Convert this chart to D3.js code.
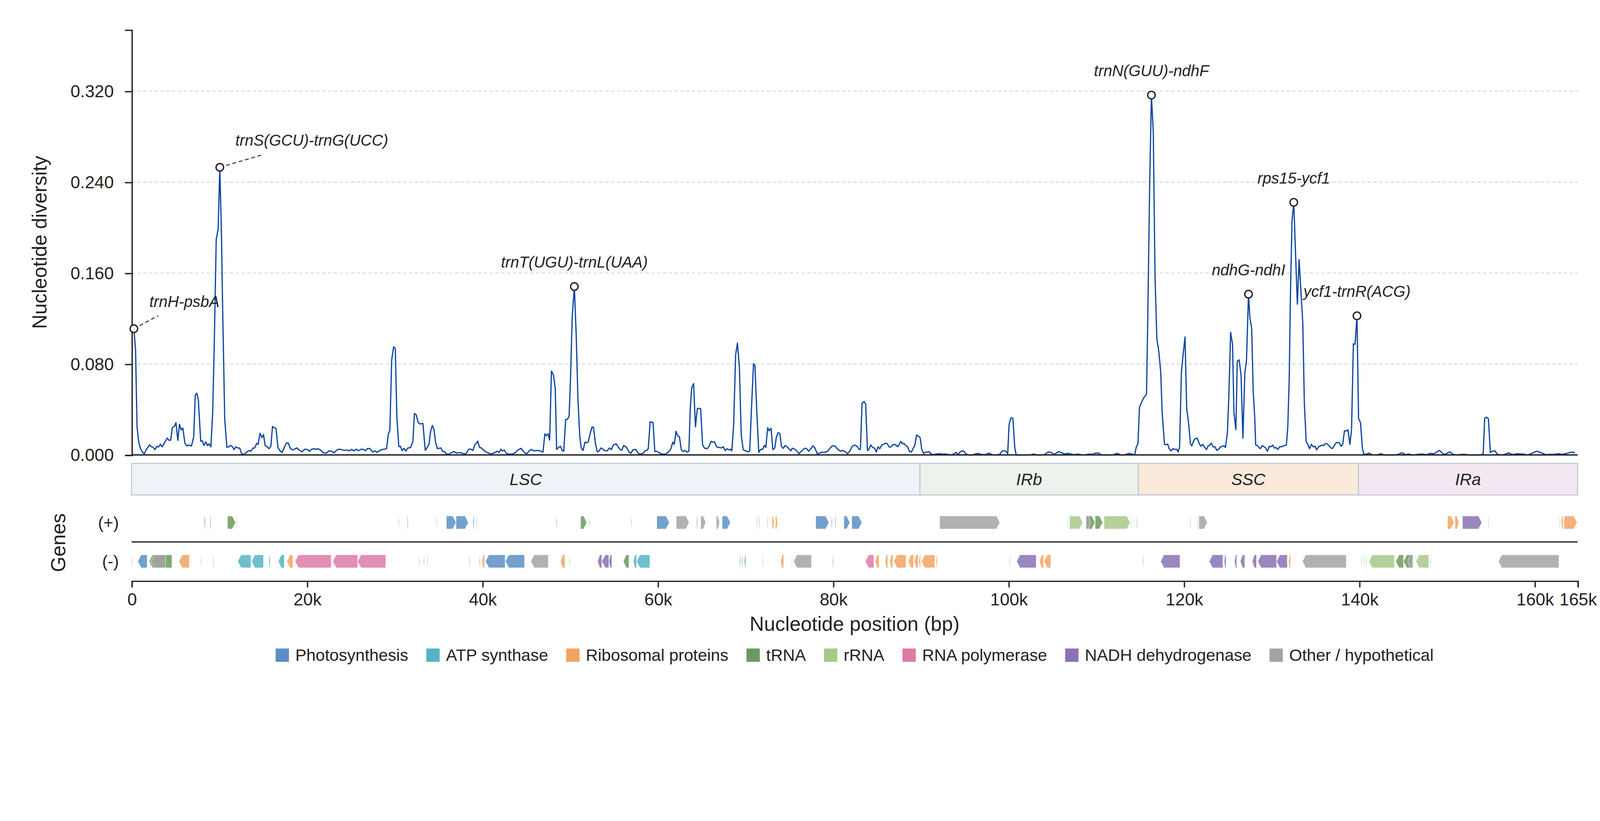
<!DOCTYPE html>
<html>
<head>
<meta charset="utf-8">
<script src="https://cdn.jsdelivr.net/npm/d3@7"></script>
<style>
  html, body { margin: 0; padding: 0; background: #fff; overflow: hidden; }
  svg { display: block; width: 100vw; height: 100vh; font-family: "Liberation Sans", Arial, sans-serif; }
</style>
</head>
<body>
<div id="chart"></div>
<script>
// ---- DATA ----
const genomeLength = 164900;

const regionNames  = ["LSC", "IRb", "SSC", "IRa"];
const regionStarts = [0, 89900, 114800, 139900];
const regionEnds   = [89900, 114800, 139900, 164900];

const yTicks = [0, 0.08, 0.16, 0.24, 0.32];
const xTicks = [0, 20000, 40000, 60000, 80000, 100000, 120000, 140000, 160000, 164900];
const xTickLabels = ["0", "20k", "40k", "60k", "80k", "100k", "120k", "140k", "160k", "165k"];

const categoryCodes = ["ps", "atp", "rib", "trna", "rrna", "rpo", "ndh", "oth"];
const categoryNames = ["Photosynthesis", "ATP synthase", "Ribosomal proteins", "tRNA", "rRNA",
                       "RNA polymerase", "NADH dehydrogenase", "Other / hypothetical"];
const categoryColors = ["#5a8fc4", "#55b4c4", "#f1a462", "#6a9a5e", "#a8c98a",
                        "#de7aa6", "#8a72b4", "#a3a3a3"];

// sliding window nucleotide diversity: [position (kb), Pi]
const diversity = [
  [0.26,0.1110],[0.45,0.0924],[0.62,0.0246],[0.83,0.0104],[1.05,0.0049],[1.29,0.0022],[1.45,0.0008],[1.64,0.0044],
  [1.85,0.0066],[2.04,0.0090],[2.23,0.0073],[2.47,0.0066],[2.66,0.0047],[2.88,0.0077],[3.06,0.0069],[3.28,0.0095],
  [3.47,0.0071],[3.71,0.0102],[4.06,0.0148],[4.28,0.0128],[4.46,0.0131],[4.65,0.0240],[4.87,0.0251],[5.06,0.0284],
  [5.27,0.0128],[5.46,0.0270],[5.65,0.0219],[5.84,0.0237],[6.08,0.0102],[6.30,0.0079],[6.51,0.0087],[6.83,0.0079],
  [7.08,0.0161],[7.26,0.0525],[7.43,0.0544],[7.61,0.0486],[7.88,0.0120],[8.05,0.0126],[8.26,0.0084],[8.48,0.0115],
  [8.66,0.0082],[8.83,0.0098],[9.04,0.0071],[9.25,0.0380],[9.42,0.0949],[9.65,0.1895],[9.87,0.1989],[10.06,0.2530],
  [10.25,0.1922],[10.36,0.1380],[10.62,0.0312],[10.87,0.0066],[11.09,0.0073],[11.30,0.0084],[11.52,0.0071],[11.68,0.0047],
  [11.89,0.0071],[12.11,0.0062],[12.33,0.0060],[12.54,0.0011],[12.81,0.0005],[13.08,0.0022],[13.35,0.0038],[13.62,0.0033],
  [13.83,0.0060],[14.05,0.0062],[14.26,0.0102],[14.43,0.0093],[14.64,0.0191],[14.86,0.0153],[15.04,0.0180],[15.23,0.0082],
  [15.45,0.0073],[15.66,0.0055],[15.88,0.0077],[16.07,0.0251],[16.26,0.0240],[16.47,0.0232],[16.69,0.0066],[16.90,0.0038],
  [17.17,0.0022],[17.44,0.0071],[17.66,0.0106],[17.87,0.0104],[18.09,0.0060],[18.33,0.0044],[18.57,0.0051],[18.84,0.0062],
  [19.11,0.0044],[19.43,0.0027],[19.76,0.0051],[20.02,0.0049],[20.29,0.0033],[20.51,0.0049],[20.83,0.0055],[21.05,0.0049],
  [21.26,0.0055],[21.59,0.0040],[21.86,0.0019],[22.23,0.0016],[22.50,0.0036],[22.77,0.0033],[23.09,0.0019],[23.36,0.0040],
  [23.63,0.0051],[23.95,0.0047],[24.28,0.0040],[24.55,0.0044],[24.82,0.0036],[25.09,0.0049],[25.35,0.0036],[25.62,0.0051],
  [25.89,0.0038],[26.16,0.0051],[26.43,0.0049],[26.70,0.0038],[26.92,0.0058],[27.19,0.0055],[27.51,0.0025],[27.78,0.0036],
  [27.99,0.0022],[28.26,0.0038],[28.59,0.0049],[28.85,0.0051],[29.07,0.0055],[29.29,0.0186],[29.45,0.0219],[29.66,0.0836],
  [29.88,0.0951],[30.07,0.0937],[30.25,0.0333],[30.47,0.0073],[30.66,0.0077],[30.85,0.0038],[31.06,0.0058],[31.28,0.0033],
  [31.49,0.0060],[31.82,0.0066],[32.08,0.0120],[32.25,0.0364],[32.46,0.0353],[32.68,0.0284],[32.89,0.0273],[33.22,0.0277],
  [33.49,0.0040],[33.70,0.0066],[33.92,0.0095],[34.08,0.0202],[34.29,0.0259],[34.48,0.0226],[34.67,0.0109],[34.88,0.0055],
  [35.26,0.0062],[35.48,0.0030],[35.69,0.0030],[35.91,0.0008],[36.23,0.0008],[36.50,0.0022],[36.77,0.0030],[37.04,0.0016],
  [37.36,0.0022],[37.68,0.0016],[38.11,0.0008],[38.44,0.0051],[38.71,0.0051],[38.92,0.0040],[39.14,0.0091],[39.30,0.0102],
  [39.46,0.0122],[39.68,0.0066],[39.89,0.0062],[40.27,0.0033],[40.54,0.0022],[41.02,0.0008],[41.37,0.0019],[41.69,0.0033],
  [41.90,0.0022],[42.12,0.0051],[42.28,0.0033],[42.50,0.0044],[42.71,0.0016],[42.98,0.0008],[43.41,0.0008],[43.73,0.0019],
  [44.11,0.0047],[44.43,0.0058],[44.70,0.0030],[45.03,0.0008],[45.30,0.0033],[45.57,0.0049],[45.89,0.0036],[46.21,0.0040],
  [46.59,0.0036],[46.91,0.0025],[47.13,0.0186],[47.29,0.0169],[47.50,0.0186],[47.67,0.0131],[47.88,0.0738],[48.10,0.0705],
  [48.31,0.0590],[48.47,0.0049],[48.69,0.0066],[48.90,0.0077],[49.12,0.0038],[49.28,0.0033],[49.50,0.0312],[49.69,0.0312],
  [49.89,0.0341],[50.05,0.0665],[50.25,0.1220],[50.49,0.1481],[50.70,0.1057],[50.90,0.0489],[51.10,0.0170],[51.27,0.0062],
  [51.49,0.0040],[51.70,0.0113],[51.86,0.0106],[52.08,0.0115],[52.30,0.0191],[52.51,0.0246],[52.67,0.0244],[52.89,0.0104],
  [53.10,0.0027],[53.32,0.0036],[53.53,0.0062],[53.75,0.0051],[53.96,0.0038],[54.23,0.0036],[54.50,0.0062],[54.72,0.0047],
  [54.93,0.0087],[55.26,0.0098],[55.53,0.0066],[55.74,0.0047],[55.90,0.0040],[56.12,0.0084],[56.44,0.0066],[56.71,0.0027],
  [56.93,0.0014],[57.19,0.0047],[57.52,0.0047],[57.79,0.0014],[58.06,0.0008],[58.33,0.0014],[58.54,0.0036],[58.76,0.0040],
  [58.92,0.0055],[59.13,0.0290],[59.46,0.0287],[59.67,0.0030],[59.89,0.0033],[60.16,0.0019],[60.48,0.0008],[60.91,0.0008],
  [61.23,0.0027],[61.50,0.0055],[61.72,0.0113],[61.88,0.0093],[62.09,0.0208],[62.26,0.0169],[62.47,0.0161],[62.69,0.0044],
  [62.90,0.0030],[63.12,0.0040],[63.33,0.0025],[63.55,0.0033],[63.71,0.0410],[63.87,0.0590],[64.09,0.0628],[64.30,0.0248],
  [64.52,0.0410],[64.89,0.0408],[65.11,0.0093],[65.32,0.0060],[65.65,0.0055],[65.86,0.0077],[66.08,0.0120],[66.24,0.0113],
  [66.46,0.0117],[66.72,0.0071],[66.99,0.0066],[67.26,0.0062],[67.48,0.0073],[67.69,0.0038],[67.91,0.0055],[68.12,0.0044],
  [68.29,0.0051],[68.45,0.0036],[68.66,0.0268],[68.88,0.0880],[69.09,0.0984],[69.31,0.0771],[69.52,0.0180],[69.74,0.0047],
  [69.96,0.0038],[70.17,0.0033],[70.33,0.0027],[70.49,0.0036],[70.71,0.0443],[70.92,0.0803],[71.08,0.0787],[71.30,0.0377],
  [71.52,0.0022],[71.73,0.0049],[71.95,0.0049],[72.16,0.0084],[72.32,0.0066],[72.54,0.0240],[72.70,0.0213],[72.92,0.0235],
  [73.13,0.0047],[73.35,0.0062],[73.51,0.0150],[73.72,0.0197],[73.94,0.0186],[74.10,0.0077],[74.32,0.0058],[74.53,0.0084],
  [74.75,0.0071],[74.96,0.0055],[75.18,0.0036],[75.34,0.0060],[75.61,0.0051],[75.82,0.0040],[76.09,0.0011],[76.42,0.0036],
  [76.74,0.0058],[76.95,0.0058],[77.22,0.0033],[77.49,0.0058],[77.71,0.0080],[77.92,0.0062],[78.19,0.0011],[78.41,0.0014],
  [78.73,0.0025],[79.00,0.0022],[79.38,0.0033],[79.65,0.0060],[79.92,0.0082],[80.24,0.0077],[80.51,0.0051],[80.83,0.0033],
  [81.10,0.0040],[81.37,0.0030],[81.64,0.0011],[81.91,0.0033],[82.18,0.0077],[82.50,0.0087],[82.77,0.0073],[82.95,0.0049],
  [83.11,0.0049],[83.30,0.0456],[83.52,0.0470],[83.71,0.0448],[83.92,0.0038],[84.08,0.0051],[84.30,0.0087],[84.51,0.0066],
  [84.73,0.0060],[84.92,0.0027],[85.11,0.0071],[85.32,0.0055],[85.54,0.0087],[85.75,0.0093],[85.99,0.0104],[86.18,0.0098],
  [86.40,0.0069],[86.56,0.0069],[86.77,0.0087],[86.99,0.0093],[87.15,0.0087],[87.37,0.0073],[87.53,0.0091],[87.72,0.0120],
  [87.90,0.0098],[88.07,0.0102],[88.28,0.0084],[88.50,0.0071],[88.71,0.0030],[88.93,0.0025],[89.14,0.0060],[89.30,0.0080],
  [89.52,0.0175],[89.74,0.0164],[89.92,0.0153],[90.11,0.0049],[90.33,0.0011],[90.54,0.0025],[90.76,0.0025],[90.92,0.0030],
  [91.13,0.0011],[91.40,0.0003],[91.78,0.0008],[92.10,0.0011],[92.43,0.0008],[92.86,0.0008],[93.23,0.0003],[93.61,0.0003],
  [93.83,0.0014],[94.04,0.0022],[94.26,0.0005],[94.53,0.0030],[94.85,0.0036],[95.12,0.0011],[95.44,0.0000],[95.87,0.0000],
  [96.20,0.0008],[96.52,0.0014],[96.90,0.0005],[97.33,0.0003],[97.76,0.0016],[98.13,0.0003],[98.56,0.0000],[98.99,0.0005],
  [99.32,0.0038],[99.70,0.0033],[99.91,0.0011],[100.07,0.0273],[100.29,0.0328],[100.50,0.0322],[100.72,0.0060],[100.88,0.0000],
  [101.36,0.0000],[102.06,0.0000],[102.60,0.0003],[102.87,0.0008],[103.25,0.0000],[103.73,0.0000],[104.16,0.0005],[104.54,0.0027],
  [104.86,0.0022],[105.19,0.0005],[105.46,0.0016],[105.73,0.0030],[106.05,0.0019],[106.42,0.0008],[106.75,0.0014],[107.12,0.0008],
  [107.50,0.0003],[107.88,0.0008],[108.26,0.0003],[108.74,0.0000],[109.12,0.0008],[109.55,0.0005],[109.92,0.0016],[110.30,0.0016],
  [110.57,0.0000],[111.43,0.0000],[111.97,0.0003],[112.40,0.0014],[112.83,0.0000],[113.32,0.0003],[113.75,0.0014],[114.18,0.0005],
  [114.39,0.0000],[114.56,0.0066],[114.77,0.0102],[114.93,0.0415],[115.09,0.0448],[115.31,0.0486],[115.52,0.0514],[115.74,0.0532],
  [115.89,0.1246],[116.10,0.2381],[116.30,0.3165],[116.51,0.2841],[116.71,0.1570],[116.92,0.1016],[117.14,0.0913],[117.36,0.0727],
  [117.52,0.0377],[117.79,0.0093],[118.00,0.0091],[118.16,0.0095],[118.32,0.0055],[118.54,0.0036],[118.76,0.0055],[118.97,0.0049],
  [119.19,0.0049],[119.35,0.0027],[119.51,0.0071],[119.72,0.0732],[119.91,0.0880],[120.13,0.1038],[120.32,0.0410],[120.53,0.0284],
  [120.75,0.0098],[120.91,0.0080],[121.12,0.0126],[121.34,0.0145],[121.53,0.0148],[121.72,0.0104],[121.93,0.0077],[122.15,0.0093],
  [122.36,0.0069],[122.58,0.0047],[122.74,0.0077],[122.90,0.0082],[123.12,0.0104],[123.33,0.0071],[123.55,0.0071],[123.76,0.0040],
  [123.98,0.0051],[124.15,0.0069],[124.37,0.0077],[124.58,0.0080],[124.74,0.0066],[124.96,0.0191],[125.12,0.0497],[125.33,0.1079],
  [125.55,0.0973],[125.71,0.0372],[125.93,0.0224],[126.09,0.0825],[126.30,0.0836],[126.52,0.0705],[126.73,0.0148],[126.95,0.0721],
  [127.14,0.0831],[127.37,0.1414],[127.53,0.1205],[127.73,0.1116],[127.91,0.0550],[128.08,0.0333],[128.19,0.0087],[128.40,0.0082],
  [128.56,0.0066],[128.73,0.0055],[128.94,0.0084],[129.16,0.0071],[129.32,0.0062],[129.53,0.0033],[129.75,0.0077],[129.91,0.0071],
  [130.13,0.0087],[130.34,0.0060],[130.50,0.0066],[130.72,0.0049],[130.93,0.0073],[131.20,0.0073],[131.42,0.0082],[131.69,0.0087],
  [131.85,0.0246],[132.01,0.0661],[132.15,0.1400],[132.33,0.2057],[132.53,0.2222],[132.69,0.1868],[132.94,0.1327],[133.14,0.1719],
  [133.35,0.1435],[133.56,0.1165],[133.74,0.0450],[133.95,0.0115],[134.11,0.0098],[134.33,0.0055],[134.54,0.0093],[134.76,0.0071],
  [134.97,0.0077],[135.13,0.0044],[135.35,0.0071],[135.56,0.0080],[135.78,0.0087],[135.94,0.0082],[136.16,0.0102],[136.37,0.0095],
  [136.59,0.0077],[136.80,0.0060],[136.96,0.0058],[137.18,0.0087],[137.39,0.0109],[137.72,0.0109],[137.93,0.0077],[138.12,0.0095],
  [138.31,0.0213],[138.53,0.0211],[138.71,0.0222],[138.93,0.0093],[139.12,0.0224],[139.33,0.0978],[139.52,0.0973],[139.74,0.1224],
  [139.92,0.0322],[140.14,0.0284],[140.36,0.0060],[140.52,0.0005],[140.84,0.0008],[141.11,0.0016],[141.43,0.0003],[142.02,0.0000],
  [142.46,0.0011],[142.83,0.0000],[143.91,0.0000],[144.50,0.0005],[144.72,0.0016],[144.99,0.0016],[145.26,0.0003],[145.63,0.0008],
  [146.06,0.0000],[146.66,0.0005],[147.14,0.0008],[147.68,0.0003],[148.11,0.0014],[148.54,0.0011],[148.86,0.0027],[149.13,0.0040],
  [149.40,0.0022],[149.67,0.0003],[150.05,0.0016],[150.32,0.0027],[150.64,0.0008],[151.02,0.0000],[151.66,0.0005],[152.09,0.0005],
  [152.52,0.0000],[153.92,0.0000],[154.14,0.0016],[154.30,0.0322],[154.52,0.0333],[154.73,0.0317],[154.95,0.0022],[155.16,0.0033],
  [155.48,0.0036],[155.75,0.0005],[156.24,0.0000],[156.72,0.0008],[157.05,0.0019],[157.37,0.0005],[157.69,0.0005],[158.02,0.0011],
  [158.34,0.0008],[158.72,0.0008],[159.09,0.0000],[159.52,0.0008],[159.90,0.0022],[160.22,0.0033],[160.54,0.0025],[160.92,0.0014],
  [161.25,0.0003],[161.68,0.0005],[162.21,0.0005],[162.75,0.0011],[163.08,0.0005],[163.56,0.0011],[163.99,0.0022],[164.37,0.0025],
  [164.59,0.0016]
];

// highly variable regions
const peakNames = ["trnH-psbA", "trnS(GCU)-trnG(UCC)", "trnT(UGU)-trnL(UAA)", "trnN(GUU)-ndhF",
                   "ndhG-ndhI", "rps15-ycf1", "ycf1-trnR(ACG)"];
const peakKb = [0.26, 10.06, 50.49, 116.30, 127.37, 132.53, 139.74];

// genes: [start kb, end kb, category code]
const genesPlus = [
  [8.30,8.42,"ps"],[8.95,9.05,"ps"],[10.93,11.85,"trna"],[11.95,12.02,"trna"],[30.45,30.52,"trna"],[31.45,31.55,"ps"],
  [34.76,34.84,"trna"],[35.90,37.00,"ps"],[37.00,38.40,"ps"],[38.95,39.08,"ps"],[39.35,39.43,"trna"],[48.45,48.53,"trna"],
  [51.20,51.90,"trna"],[52.15,52.22,"trna"],[56.95,57.03,"trna"],[59.89,61.32,"ps"],[62.11,63.58,"oth"],[64.45,64.55,"ps"],
  [64.90,65.47,"oth"],[66.68,67.05,"oth"],[67.35,68.29,"ps"],[71.28,71.36,"ps"],[71.54,71.62,"ps"],[72.48,72.56,"ps"],
  [73.04,73.27,"rib"],[73.42,73.68,"rib"],[78.02,79.52,"ps"],[79.80,79.90,"ps"],[80.22,80.32,"ps"],[81.22,81.90,"ps"],
  [82.13,83.29,"ps"],[92.15,99.01,"oth"],[106.75,106.82,"trna"],[106.96,108.47,"rrna"],[108.81,109.87,"trna"],
  [108.85,109.35,"oth"],[109.89,110.74,"trna"],[110.89,113.88,"rrna"],[114.00,114.08,"rrna"],[114.28,114.36,"rrna"],
  [114.62,114.68,"trna"],[120.70,120.80,"rib"],[121.57,121.63,"trna"],[121.71,122.67,"oth"],[150.07,150.81,"rib"],
  [150.92,151.36,"rib"],[151.77,153.98,"ndh"],[154.72,154.79,"trna"],[162.85,162.92,"trna"],[163.07,163.29,"rib"],
  [163.36,164.84,"rib"]
];
const genesMinus = [
  [0.00,0.08,"trna"],[0.71,1.77,"ps"],[2.00,4.60,"trna"],[2.20,3.88,"oth"],[5.39,6.59,"rib"],[7.88,7.95,"trna"],
  [9.28,9.35,"trna"],[12.10,13.60,"atp"],[13.68,15.04,"atp"],[15.65,15.80,"atp"],[16.73,17.41,"atp"],[17.71,18.39,"rib"],
  [18.65,22.76,"rpo"],[22.95,25.78,"rpo"],[25.78,28.98,"rpo"],[32.78,32.86,"ps"],[33.31,33.38,"trna"],[33.69,33.77,"trna"],
  [38.51,38.58,"trna"],[39.64,39.72,"trna"],[39.95,40.25,"rib"],[40.36,42.59,"ps"],[42.63,44.81,"ps"],[45.53,47.52,"oth"],
  [48.92,49.41,"rib"],[49.93,50.01,"trna"],[53.14,53.63,"ndh"],[53.63,54.42,"ndh"],[54.42,54.76,"ndh"],[56.08,56.72,"trna"],
  [57.21,57.59,"atp"],[57.59,59.10,"atp"],[69.33,69.43,"ps"],[69.62,69.72,"ps"],[69.88,70.03,"ps"],[71.95,72.02,"trna"],
  [74.02,74.36,"rib"],[75.26,75.34,"rib"],[75.49,77.53,"oth"],[79.94,80.02,"ps"],[83.67,84.65,"rpo"],[84.80,85.25,"rib"],
  [85.93,86.23,"rib"],[86.46,86.80,"rib"],[86.91,88.31,"rib"],[88.57,89.17,"rib"],[89.25,89.70,"rib"],[89.78,89.97,"rib"],
  [90.08,91.59,"rib"],[91.72,91.86,"rib"],[100.10,100.17,"trna"],[100.93,103.16,"ndh"],[103.53,103.99,"rib"],
  [104.06,104.82,"rib"],[115.32,115.38,"trna"],[117.35,119.56,"ndh"],[122.89,124.44,"ndh"],[124.59,124.81,"ps"],
  [125.77,126.03,"ndh"],[126.43,126.95,"ndh"],[127.80,128.28,"ndh"],[128.43,130.57,"ndh"],[130.57,131.79,"ndh"],
  [131.94,132.16,"rib"],[133.52,138.51,"oth"],[140.22,140.28,"trna"],[140.51,140.57,"trna"],[140.73,140.79,"trna"],
  [141.09,144.01,"rrna"],[144.16,145.05,"trna"],[145.05,146.15,"trna"],[145.53,146.08,"oth"],[146.45,147.93,"rrna"],
  [148.12,148.19,"trna"],[155.87,162.77,"oth"]
];

// ---- LAYOUT ----
const VW = 4322 / 3, VH = 2102 / 3;
const left = 118.5, right = 1420.5;
const plotTop = 26.8, plotBottom = 409.7;
const regionY = 417.3, regionH = 28.4;
const plusY = 470.5, minusY = 505.5, geneH = 11.7, sepY = 488;
const axisY = 523;
const ink = "#222";

const svg = d3.select("#chart").append("svg")
  .attr("viewBox", `0 0 ${VW} ${VH}`)
  .attr("preserveAspectRatio", "xMidYMin meet");

const x = d3.scaleLinear().domain([0, genomeLength]).range([left, right]);
const y = d3.scaleLinear().domain([0, 0.374]).range([plotBottom, plotTop]);
const colorOf = d3.scaleOrdinal().domain(categoryCodes).range(categoryColors);

// grid
svg.append("g").selectAll("line")
  .data(yTicks.filter(d => d > 0))
  .join("line")
  .attr("x1", left).attr("x2", right)
  .attr("y1", d => y(d)).attr("y2", d => y(d))
  .attr("stroke", "#d6dde3").attr("stroke-width", 1)
  .attr("stroke-dasharray", "3,2.2");

// diversity line
const line = d3.line().x(d => x(d[0] * 1000)).y(d => y(d[1]));
svg.append("path")
  .datum(diversity)
  .attr("fill", "none")
  .attr("stroke", "#0d47a1")
  .attr("stroke-width", 1.1)
  .attr("stroke-linejoin", "round")
  .attr("d", line);

// y axis
const yAxis = svg.append("g")
  .attr("transform", `translate(${left},0)`)
  .call(d3.axisLeft(y).tickValues(yTicks).tickFormat(d3.format(".3f")).tickSize(6).tickPadding(10));
yAxis.select(".domain").attr("stroke", ink).attr("stroke-width", 1.2);
yAxis.selectAll(".tick line").attr("stroke", ink).attr("stroke-width", 1.2);
yAxis.selectAll(".tick text").attr("font-size", 15.6).attr("font-family", "Liberation Sans, Arial, sans-serif").attr("fill", ink);

// baseline of the diversity panel
svg.append("line")
  .attr("x1", left).attr("x2", right)
  .attr("y1", plotBottom).attr("y2", plotBottom)
  .attr("stroke", ink).attr("stroke-width", 1.2);

svg.append("text")
  .attr("transform", `translate(35.7,${(plotTop + plotBottom) / 2}) rotate(-90)`)
  .attr("text-anchor", "middle").attr("dy", "0.35em")
  .attr("font-size", 18).attr("fill", ink)
  .text("Nucleotide diversity");

// annotations
const peaks = peakNames.map((name, i) => {
  const pt = diversity.reduce((a, b) => Math.abs(b[0] - peakKb[i]) < Math.abs(a[0] - peakKb[i]) ? b : a);
  return { name, px: x(pt[0] * 1000), py: y(pt[1]), side: i < 2 };
});
const annG = svg.append("g");
peaks.forEach(p => {
  const t = annG.append("text")
    .attr("font-size", 14).attr("font-style", "italic").attr("fill", ink)
    .text(p.name);
  if (p.side) {
    t.attr("x", p.px + 14).attr("y", p.py - 19.5).attr("text-anchor", "start");
    const w = t.node().getComputedTextLength();
    const cx = 14 + w / 2, cy = -24.5;
    annG.append("line")
      .attr("x1", p.px).attr("y1", p.py)
      .attr("x2", p.px + cx * 0.48).attr("y2", p.py + cy * 0.48)
      .attr("stroke", "#444").attr("stroke-width", 1)
      .attr("stroke-dasharray", "3.5,2.4");
  } else {
    t.attr("x", p.px).attr("y", p.py - 17).attr("text-anchor", "middle");
  }
});
annG.selectAll("circle")
  .data(peaks)
  .join("circle")
  .attr("cx", d => d.px).attr("cy", d => d.py).attr("r", 3.4)
  .attr("fill", "#fff").attr("stroke", ink).attr("stroke-width", 1.2);

// genome regions
const regions = regionNames.map((n, i) => ({ n, s: regionStarts[i], e: regionEnds[i] }));
const regionFills = ["#eff3f7", "#edf3ec", "#f9eadb", "#f3e8f2"];
const rg = svg.append("g");
rg.selectAll("rect")
  .data(regions)
  .join("rect")
  .attr("x", d => x(d.s)).attr("width", d => x(d.e) - x(d.s))
  .attr("y", regionY).attr("height", regionH)
  .attr("fill", (d, i) => regionFills[i])
  .attr("stroke", "#bcc5ce").attr("stroke-width", 0.9);
rg.selectAll("text")
  .data(regions)
  .join("text")
  .attr("x", d => (x(d.s) + x(d.e)) / 2).attr("y", regionY + regionH / 2)
  .attr("dy", "0.36em").attr("text-anchor", "middle")
  .attr("font-size", 15).attr("font-style", "italic").attr("fill", ink)
  .text(d => d.n);

// genes
function genePath(g, cy, strand) {
  let x0 = x(g[0] * 1000), x1 = x(g[1] * 1000);
  if (x1 - x0 < 0.6) x1 = x0 + 0.6;
  const w = x1 - x0, head = Math.min(3, w * 0.5);
  const t = cy - geneH / 2, b = cy + geneH / 2;
  if (strand > 0) return `M${x0},${t}H${x1 - head}L${x1},${cy}L${x1 - head},${b}H${x0}Z`;
  return `M${x1},${t}H${x0 + head}L${x0},${cy}L${x0 + head},${b}H${x1}Z`;
}
const gg = svg.append("g");
gg.selectAll("path.plus")
  .data(genesPlus)
  .join("path").attr("class", "plus")
  .attr("d", d => genePath(d, plusY, 1))
  .attr("fill", d => colorOf(d[2])).attr("fill-opacity", 0.85)
  .attr("stroke", "#fff").attr("stroke-width", 0.3);
gg.selectAll("path.minus")
  .data(genesMinus)
  .join("path").attr("class", "minus")
  .attr("d", d => genePath(d, minusY, -1))
  .attr("fill", d => colorOf(d[2])).attr("fill-opacity", 0.85)
  .attr("stroke", "#fff").attr("stroke-width", 0.3);

svg.append("line")
  .attr("x1", left).attr("x2", right)
  .attr("y1", sepY).attr("y2", sepY)
  .attr("stroke", "#333").attr("stroke-width", 1.2);

svg.selectAll("text.strand")
  .data([["(+)", plusY], ["(-)", minusY]])
  .join("text").attr("class", "strand")
  .attr("x", 107).attr("y", d => d[1]).attr("dy", "0.35em")
  .attr("text-anchor", "end").attr("font-size", 15).attr("fill", ink)
  .text(d => d[0]);

svg.append("text")
  .attr("transform", `translate(52.3,${sepY + 0.7}) rotate(-90)`)
  .attr("text-anchor", "middle").attr("dy", "0.35em")
  .attr("font-size", 18).attr("fill", ink)
  .text("Genes");

// x axis
const xAxis = svg.append("g")
  .attr("transform", `translate(0,${axisY})`)
  .call(d3.axisBottom(x).tickValues(xTicks).tickFormat((d, i) => xTickLabels[i]).tickSize(6).tickPadding(5));
xAxis.select(".domain").attr("stroke", ink).attr("stroke-width", 1.2);
xAxis.selectAll(".tick line").attr("stroke", ink).attr("stroke-width", 1.2);
xAxis.selectAll(".tick text").attr("font-size", 15.6).attr("font-family", "Liberation Sans, Arial, sans-serif").attr("fill", ink);

svg.append("text")
  .attr("x", (left + right) / 2).attr("y", 568)
  .attr("text-anchor", "middle")
  .attr("font-size", 18).attr("fill", ink)
  .text("Nucleotide position (bp)");

// legend
const legend = svg.append("g");
let cursor = 0;
categoryNames.forEach((name, i) => {
  const item = legend.append("g").attr("transform", `translate(${cursor},0)`);
  item.append("rect").attr("x", 0).attr("y", -6).attr("width", 12).attr("height", 12)
    .attr("fill", categoryColors[i]);
  const t = item.append("text").attr("x", 17.7).attr("y", 0).attr("dy", "0.35em")
    .attr("font-size", 15).attr("fill", ink).text(name);
  cursor += 17.7 + t.node().getComputedTextLength() + 16.3;
});
const legendW = cursor - 16.3;
legend.attr("transform", `translate(${(left + right) / 2 - legendW / 2},590)`);
</script>
</body>
</html>
